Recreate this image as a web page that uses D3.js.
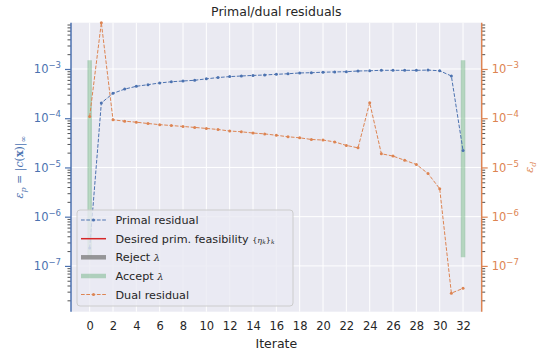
<!DOCTYPE html>
<html>
<head>
<meta charset="utf-8">
<script src="https://cdn.jsdelivr.net/npm/d3@7"></script>
<style>
  body { margin: 0; background: #fff; }
  text { font-family: "DejaVu Sans", sans-serif; }
</style>
</head>
<body>
<div id="chart"></div>
<script>
// Data
const iterates = d3.range(0, 33);
const primal = [2.3e-7, 2.04e-4, 3.2e-4, 3.9e-4, 4.45e-4, 4.8e-4, 5.2e-4, 5.5e-4, 5.7e-4, 5.9e-4,
  6.3e-4, 6.7e-4, 7.0e-4, 7.2e-4, 7.4e-4, 7.55e-4, 7.8e-4, 8.0e-4, 8.3e-4, 8.4e-4,
  8.6e-4, 8.7e-4, 8.8e-4, 9.1e-4, 9.2e-4, 9.4e-4, 9.4e-4, 9.4e-4, 9.4e-4, 9.5e-4,
  9.2e-4, 7.2e-4, 2.2e-5];
const dual = [1.08e-4, 8.7e-3, 9.3e-5, 8.7e-5, 8.3e-5, 7.8e-5, 7.4e-5, 7.1e-5, 6.8e-5, 6.5e-5,
  6.2e-5, 5.9e-5, 5.5e-5, 5.3e-5, 5.0e-5, 4.8e-5, 4.5e-5, 4.2e-5, 4.0e-5, 3.7e-5,
  3.6e-5, 3.3e-5, 2.8e-5, 2.5e-5, 2.07e-4, 1.9e-5, 1.7e-5, 1.4e-5, 1.15e-5, 7.5e-6,
  3.7e-6, 2.8e-8, 3.5e-8];
const acceptIters = [0, 32];
const acceptRange = [1.5e-7, 1.5e-3];
const xTicks = d3.range(0, 33, 2);
const yMajor = [1e-3, 1e-4, 1e-5, 1e-6, 1e-7];

const W = 542, H = 353;
const pL = 71, pR = 481.7, pT = 22.7, pB = 311.7;
const blue = '#4c72b0', orange = '#dd8452', green = '#55a868';

const x = d3.scaleLinear().domain([-1.6, 33.6]).range([pL, pR]);
const y = d3.scaleLog().domain([Math.pow(10, -7.93), Math.pow(10, -2.06)]).range([pB, pT]);

const yMinor = [];
for (let e = -8; e <= -2; e++) for (let m = 2; m <= 9; m++) {
  const v = m * Math.pow(10, e);
  if (v >= y.domain()[0] && v <= y.domain()[1]) yMinor.push(v);
}

const svg = d3.select('#chart').append('svg').attr('width', W).attr('height', H);

// plot background
svg.append('rect').attr('x', pL).attr('y', pT)
  .attr('width', pR - pL).attr('height', pB - pT).attr('fill', '#eaeaf2');

// grid
svg.append('g').selectAll('line').data(xTicks).join('line')
  .attr('x1', d => x(d)).attr('x2', d => x(d)).attr('y1', pT).attr('y2', pB)
  .attr('stroke', '#fff').attr('stroke-width', 1);
svg.append('g').selectAll('line').data(yMajor).join('line')
  .attr('x1', pL).attr('x2', pR).attr('y1', d => y(d)).attr('y2', d => y(d))
  .attr('stroke', '#fff').attr('stroke-width', 1);

// accept lambda bars
svg.append('g').selectAll('line').data(acceptIters).join('line')
  .attr('x1', d => x(d)).attr('x2', d => x(d))
  .attr('y1', y(acceptRange[0])).attr('y2', y(acceptRange[1]))
  .attr('stroke', green).attr('stroke-opacity', 0.4).attr('stroke-width', 4.5);

// series
function drawSeries(vals, color) {
  const pts = iterates.map((k, i) => [k, vals[i]]);
  const line = d3.line().x(d => x(d[0])).y(d => y(d[1]));
  svg.append('path').datum(pts).attr('d', line).attr('fill', 'none')
    .attr('stroke', color).attr('stroke-width', 1).attr('stroke-dasharray', '3.7,1.6');
  svg.append('g').selectAll('circle').data(pts).join('circle')
    .attr('cx', d => x(d[0])).attr('cy', d => y(d[1])).attr('r', 1.5).attr('fill', color);
}
drawSeries(primal, blue);
drawSeries(dual, orange);

// superscript tick format
function supFmt(sel, color, anchor) {
  sel.selectAll('.tick text').each(function(d) {
    const t = d3.select(this).text('');
    const e = Math.round(Math.log10(d));
    t.attr('fill', color).attr('font-size', 11.5).attr('text-anchor', anchor);
    t.append('tspan').text('10');
    t.append('tspan').attr('dy', -5).attr('font-size', 8.5).text('\u2212' + (-e));
  });
}

// left axis
const gL = svg.append('g').attr('transform', `translate(${pL},0)`);
gL.call(d3.axisLeft(y).tickValues(yMinor).tickSize(3.5).tickFormat(''));
gL.selectAll('.tick line').attr('stroke', '#262626').attr('stroke-width', 0.8);
const gL2 = svg.append('g').attr('transform', `translate(${pL},0)`);
gL2.call(d3.axisLeft(y).tickValues(yMajor).tickSize(6).tickPadding(4));
gL2.selectAll('.tick line').attr('stroke', blue).attr('stroke-width', 1.2);
supFmt(gL2, blue, 'end');
gL.select('.domain').remove();
gL2.select('.domain').attr('stroke', blue).attr('stroke-width', 1.5).attr('d', `M0,${pT}V${pB}`);

// right axis
const gR = svg.append('g').attr('transform', `translate(${pR},0)`);
gR.call(d3.axisRight(y).tickValues(yMinor).tickSize(3.5).tickFormat(''));
gR.selectAll('.tick line').attr('stroke', '#262626').attr('stroke-width', 0.8);
const gR2 = svg.append('g').attr('transform', `translate(${pR},0)`);
gR2.call(d3.axisRight(y).tickValues(yMajor).tickSize(6).tickPadding(4));
gR2.selectAll('.tick line').attr('stroke', orange).attr('stroke-width', 1.2);
supFmt(gR2, orange, 'start');
gR.select('.domain').remove();
gR2.select('.domain').attr('stroke', orange).attr('stroke-width', 1.5).attr('d', `M0,${pT}V${pB}`);

// x axis labels
const gX = svg.append('g').attr('transform', `translate(0,${pB})`);
gX.call(d3.axisBottom(x).tickValues(xTicks).tickSize(0).tickPadding(10));
gX.select('.domain').remove();
gX.selectAll('.tick text').attr('fill', '#262626').attr('font-size', 11.5);

svg.append('text').attr('x', x(16)).attr('y', 348).attr('text-anchor', 'middle')
  .attr('font-size', 12.5).attr('fill', '#262626').text('Iterate');
svg.append('text').attr('x', (pL + pR) / 2).attr('y', 16).attr('text-anchor', 'middle')
  .attr('font-size', 12.5).attr('fill', '#262626').text('Primal/dual residuals');

// y labels
const ly = svg.append('text').attr('transform', `translate(23,${(pT + pB) / 2}) rotate(-90)`)
  .attr('text-anchor', 'middle').attr('fill', blue).attr('font-size', 11)
  .style('font-family', '"DejaVu Serif", serif');
ly.append('tspan').attr('font-style', 'italic').text('\u03b5');
ly.append('tspan').attr('font-style', 'italic').attr('font-size', 8).attr('dy', 3).text('p');
ly.append('tspan').attr('dy', -3).text(' = |');
ly.append('tspan').attr('font-style', 'italic').text('c');
ly.append('tspan').text('(');
ly.append('tspan').attr('font-weight', 'bold').text('x');
ly.append('tspan').text(')|');
ly.append('tspan').attr('font-size', 8).attr('dy', 3).text('\u221e');

const ry = svg.append('text').attr('transform', `translate(533,${(pT + pB) / 2}) rotate(-90)`)
  .attr('text-anchor', 'middle').attr('fill', orange).attr('font-size', 11)
  .style('font-family', '"DejaVu Serif", serif');
ry.append('tspan').attr('font-style', 'italic').text('\u03b5');
ry.append('tspan').attr('font-style', 'italic').attr('font-size', 8).attr('dy', 3).text('d');

// legend
const leg = svg.append('g');
leg.append('rect').attr('x', 77).attr('y', 210).attr('width', 216).attr('height', 96)
  .attr('rx', 3).attr('fill', '#eaeaf2').attr('fill-opacity', 0.8)
  .attr('stroke', '#cccccc').attr('stroke-width', 1);
const legItems = [
  { label: 'Primal residual', color: blue, dash: '3.7,1.6', w: 1, marker: true, op: 1 },
  { label: 'Desired prim. feasibility ', math: true, color: '#d62728', dash: null, w: 1.5, marker: false, op: 1 },
  { label: 'Reject ', lam: true, color: '#7f7f7f', dash: null, w: 4.5, marker: false, op: 0.8 },
  { label: 'Accept ', lam: true, color: green, dash: null, w: 4.5, marker: false, op: 0.4 },
  { label: 'Dual residual', color: orange, dash: '3.7,1.6', w: 1, marker: true, op: 1 }
];
const legY = [220, 238.7, 257.3, 276, 294.5];
legItems.forEach((it, i) => {
  const yy = legY[i];
  leg.append('line').attr('x1', 81).attr('x2', 106).attr('y1', yy).attr('y2', yy)
    .attr('stroke', it.color).attr('stroke-width', it.w).attr('stroke-opacity', it.op)
    .attr('stroke-dasharray', it.dash);
  if (it.marker) leg.append('circle').attr('cx', 93.5).attr('cy', yy).attr('r', 1.5).attr('fill', it.color);
  const t = leg.append('text').attr('x', 115.5).attr('y', yy + 4).attr('font-size', 11.2).attr('fill', '#262626');
  t.append('tspan').text(it.label);
  if (it.lam) t.append('tspan').attr('font-style', 'italic').style('font-family', '"DejaVu Serif", serif').attr('font-size', 10).text('\u03bb');
  if (it.math) {
    const m = t.append('tspan').style('font-family', '"DejaVu Serif", serif').attr('font-size', 8);
    m.append('tspan').text('{');
    m.append('tspan').attr('font-style', 'italic').text('\u03b7');
    m.append('tspan').attr('font-style', 'italic').attr('font-size', 6).attr('dy', 1.5).text('k');
    m.append('tspan').attr('dy', -1.5).text('}');
    m.append('tspan').attr('font-style', 'italic').attr('font-size', 6).attr('dy', 1.5).text('k');
  }
});
</script>
</body>
</html>
